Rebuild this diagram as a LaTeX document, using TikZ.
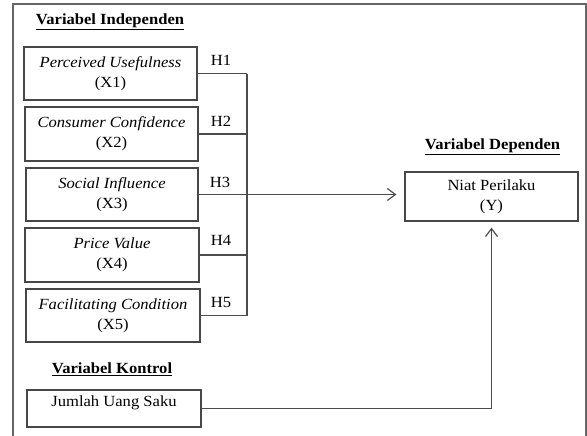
\documentclass[tikz,border=0pt]{standalone}
\usepackage{fontspec}
\setmainfont{Liberation Serif}[FakeStretch=1.07]
\usetikzlibrary{arrows.meta}
\begin{document}
\begin{tikzpicture}[x=1pt,y=-1pt,
  txt/.style={font=\fontsize{15.5}{20}\selectfont, inner sep=0pt, text=black},
  box/.style={txt, draw=black!72, line width=1.3pt, align=center},
  head/.style={font=\fontsize{15.5}{20}\selectfont\bfseries, inner sep=0pt, text=black},
  conn/.style={draw=black!70, line width=1.2pt},
  tip/.style={-{Straight Barb[length=8pt,width=12pt,line width=1.2pt]}}]
\useasboundingbox (0,0) rectangle (587,436);
% outer frame
\draw[draw=black!60, line width=1.3pt] (13,440) -- (13,4) -- (586,4) -- (586,440);
% headings
\node[head] (hind) at (110,22) {\underline{Variabel Independen}};
\node[head] (hkon) at (112,369) {\underline{Variabel Kontrol}};
\node[head] (hdep) at (492.5,147) {\underline{Variabel Dependen}};
% independent boxes
\node[box, minimum width=173pt, minimum height=53pt] (x1) at (110.5,73.5) {\textit{Perceived Usefulness}\\(X1)};
\node[box, minimum width=173pt, minimum height=54pt] (x2) at (111.5,134) {\textit{Consumer Confidence}\\(X2)};
\node[box, minimum width=172pt, minimum height=53pt] (x3) at (112,194.5) {\textit{Social Influence}\\(X3)};
\node[box, minimum width=174pt, minimum height=54pt] (x4) at (112,255) {\textit{Price Value}\\(X4)};
\node[box, minimum width=174pt, minimum height=53pt] (x5) at (113,315.5) {\textit{Facilitating Condition}\\(X5)};
% dependent
\node[box, minimum width=173pt, minimum height=49pt] (y) at (491.5,196.5) {Niat Perilaku\\(Y)};
% control
\node[box, minimum width=174pt, minimum height=37pt, text height=10.5pt, text depth=14pt] (k) at (114,408.5) {Jumlah Uang Saku};
% hypothesis labels
\node[txt] (h1) at (221,60) {H1};
\node[txt] (h2) at (221,121) {H2};
\node[txt] (h3) at (220,182) {H3};
\node[txt] (h4) at (221,240) {H4};
\node[txt] (h5) at (221,302) {H5};
% bus
\coordinate (b1) at (247,74);
\coordinate (b5) at (247,316);
\draw[conn] (b1) -- (b5);
\draw[conn] (x1.east) -- (x1.east -| b1);
\draw[conn] (x2.east) -- (x2.east -| b1);
\draw[conn] (x4.east) -- (x4.east -| b1);
\draw[conn] (x5.east) -- (x5.east -| b1);
\draw[conn, tip] (x3.east) -- ([xshift=-8pt]y.west |- x3.east);
\draw[conn, tip] (k.east) -| ([yshift=-6pt]y.south);
\end{tikzpicture}
\end{document}
